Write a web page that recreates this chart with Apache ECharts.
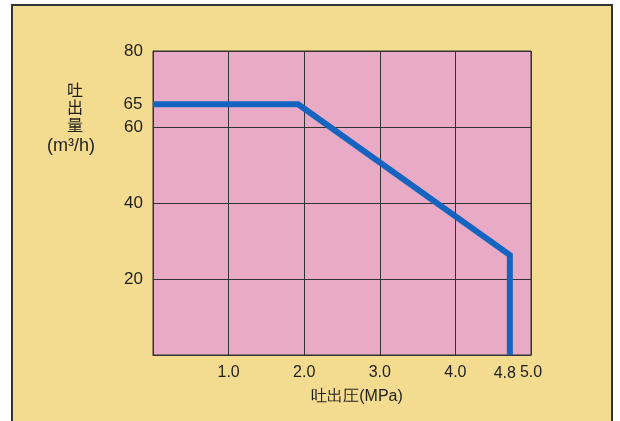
<!DOCTYPE html>
<html>
<head>
<meta charset="utf-8">
<script src="https://cdn.jsdelivr.net/npm/echarts@6/dist/echarts.min.js"></script>
<style>
html,body{margin:0;padding:0;background:#ffffff;}
#main{width:620px;height:421px;}
</style>
</head>
<body>
<div id="main"></div>
<script>
// Data
var pressure = [0, 1.92, 4.72, 4.72];      // MPa
var flow = [66, 66, 26.3, 0];              // m3/h
var pointLabels = ['65', '', '', '4.8'];   // annotated values on the curve
var xTicks = [1.0, 2.0, 3.0, 4.0, 5.0];
var yTicks = [20, 40, 60, 80];
var xName = '吐出圧(MPa)';
var yNameChars = '吐\n出\n量';
var yUnit = '(m³/h)';

var seriesData = pressure.map(function (x, i) {
  var item = { value: [x, flow[i]] };
  if (pointLabels[i] && i === 0) {
    item.label = { show: true, position: 'left', distance: 10, formatter: pointLabels[i],
      color: '#1e1e1e', fontSize: 17, fontFamily: 'Liberation Sans' };
  } else if (pointLabels[i]) {
    item.label = { show: true, position: 'bottom', distance: 10, offset: [-5, 0], formatter: pointLabels[i],
      color: '#1e1e1e', fontSize: 16, fontFamily: 'Liberation Sans' };
  }
  return item;
});

var chart = echarts.init(document.getElementById('main'));
chart.setOption({
  backgroundColor: 'transparent',
  animation: false,
  graphic: [
    { type: 'rect', z: -10, silent: true,
      shape: { x: 12, y: 5, width: 600, height: 420 },
      style: { fill: '#f3dc8f', stroke: '#333333', lineWidth: 2 } },
    { type: 'text', left: 67, top: 81,
      style: { text: yNameChars, fill: '#1e1e1e', fontSize: 16, lineHeight: 17.5,
        fontFamily: 'Noto Sans CJK JP', textAlign: 'center' } },
    { type: 'text', left: 47, top: 137,
      style: { text: yUnit, fill: '#1e1e1e', fontSize: 18, fontFamily: 'Liberation Sans' } }
  ],
  grid: { left: 153, right: 89, top: 51, bottom: 66, show: true,
    backgroundColor: '#e8aac5', borderColor: '#333333', borderWidth: 1 },
  xAxis: {
    type: 'value', min: 0, max: 5, interval: 1,
    name: xName, nameLocation: 'middle', nameGap: 34,
    nameTextStyle: { color: '#1e1e1e', fontSize: 16, fontFamily: 'Liberation Sans', padding: [0, 0, 0, 30] },
    axisLine: { show: true, lineStyle: { color: '#333333', width: 1 } },
    axisTick: { show: false },
    axisLabel: { color: '#1e1e1e', fontSize: 16, margin: 10, fontFamily: 'Liberation Sans',
      formatter: function (v) { return xTicks.indexOf(v) >= 0 ? v.toFixed(1) : ''; } },
    splitLine: { show: true, lineStyle: { color: '#333333', width: 1 } }
  },
  yAxis: {
    type: 'value', min: 0, max: 80, interval: 20,
    axisLine: { show: true, lineStyle: { color: '#333333', width: 1 } },
    axisTick: { show: false },
    axisLabel: { color: '#1e1e1e', fontSize: 17, margin: 10, fontFamily: 'Liberation Sans',
      formatter: function (v) { return yTicks.indexOf(v) >= 0 ? String(v) : ''; } },
    splitLine: { show: true, lineStyle: { color: '#333333', width: 1 } }
  },
  series: [{
    type: 'line',
    data: seriesData,
    showSymbol: true,
    symbol: 'circle',
    symbolSize: 1,
    itemStyle: { color: '#1565c0' },
    lineStyle: { color: '#1565c0', width: 6, join: 'miter' },
    label: { show: false }
  }]
});
</script>
</body>
</html>
